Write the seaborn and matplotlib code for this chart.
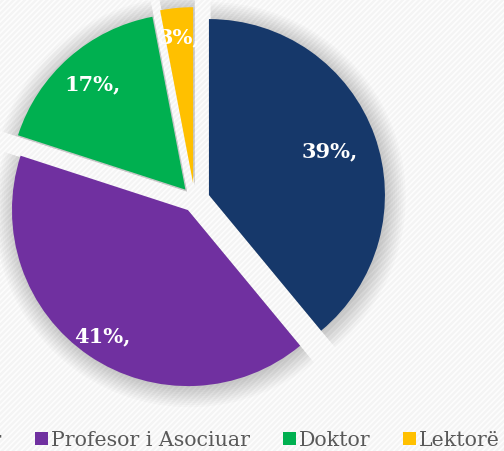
import numpy as np
import pandas as pd
import matplotlib
matplotlib.use('Agg')
import matplotlib.pyplot as plt
from matplotlib.patches import Rectangle
import seaborn as sns

# data
kategorite = ['Profesor', 'Profesor i Asociuar', 'Doktor', 'Lektorë']
perqindja = [39, 41, 17, 3]
ngjyrat = ['#16386a', '#7030a0', '#00b050', '#ffc000']
shtyrja = [0.086, 0.068, 0.08, 0.097]   # explode per slice
largesia_etiketes = [0.73, 0.87, 0.80, 0.83]  # label distance per slice

sns.set_theme(style='white')
plt.rcParams['font.family'] = ['DejaVu Serif']
plt.rcParams['hatch.linewidth'] = 1.2

df = pd.DataFrame({'kategoria': kategorite, 'vlera': perqindja})
palette = sns.color_palette(ngjyrat)

fig = plt.figure(figsize=(5.04, 4.51), dpi=100)
fig.patch.set_facecolor('#f5f5f5')
# striped background
fig.add_artist(Rectangle((0, 0), 1, 1, transform=fig.transFigure,
                         facecolor='#f4f4f4', edgecolor='#fdfdfd',
                         hatch='//////', linewidth=0, zorder=-10))

R = 176  # radius in px
lim = 1.3
cx, cy = 194.7, 451 - 200.2
side = 2 * lim * R
ax = fig.add_axes([(cx - side / 2) / 504, (cy - side / 2) / 451, side / 504, side / 451])
ax.set_facecolor('none')

# soft shadow behind the slices
for i in range(10):
    ax.pie(df['vlera'], explode=shtyrja, radius=1 + 0.012 * i, center=(0.01, -0.012),
           colors=['#000000'] * 4, startangle=90, counterclock=False,
           wedgeprops=dict(alpha=0.02, linewidth=0))

wedges, texts, autotexts = ax.pie(
    df['vlera'], explode=shtyrja, colors=palette, startangle=90, counterclock=False,
    autopct=lambda p: f'{p:.0f}%,', pctdistance=0.8,
    wedgeprops=dict(linewidth=0),
    textprops=dict(color='white', fontsize=15, fontweight='bold'))

# move labels along each slice's middle angle
for w, t, d in zip(wedges, autotexts, largesia_etiketes):
    th = np.deg2rad((w.theta1 + w.theta2) / 2)
    t.set_position((w.center[0] + d * w.r * np.cos(th), w.center[1] + d * w.r * np.sin(th)))

ax.set_xlim(-lim, lim)
ax.set_ylim(-lim, lim)
ax.set_aspect('auto')
ax.axis('off')

fig.legend(wedges, df['kategoria'], loc='center left', ncol=4, frameon=False,
           bbox_to_anchor=(-102 / 504, 0.024), borderpad=0, borderaxespad=0,
           handlelength=0.63, handleheight=0.63, handletextpad=0.15,
           columnspacing=1.59, prop=dict(size=14.8), labelcolor='#595959')

fig.savefig('out.png', dpi=100, facecolor=fig.get_facecolor())
